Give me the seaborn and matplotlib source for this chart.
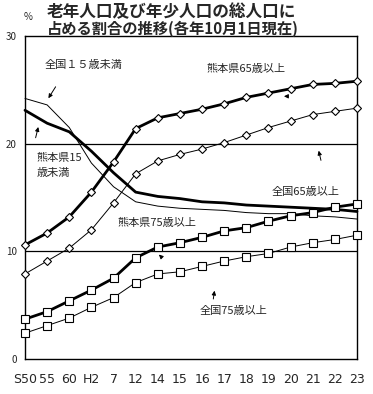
import numpy as np
import pandas as pd
import seaborn as sns
import matplotlib.pyplot as plt

# --- data ---
years = ['S50', '55', '60', 'H2', '7', '12', '14', '15', '16', '17',
         '18', '19', '20', '21', '22', '23']
kuma_65 = [10.6, 11.7, 13.2, 15.5, 18.3, 21.4, 22.4, 22.8, 23.2, 23.7,
           24.3, 24.7, 25.1, 25.5, 25.6, 25.8]
zenkoku_65 = [7.9, 9.1, 10.3, 12.0, 14.5, 17.2, 18.4, 19.0, 19.5, 20.1,
              20.8, 21.5, 22.1, 22.7, 23.0, 23.3]
kuma_75 = [3.7, 4.4, 5.4, 6.4, 7.5, 9.4, 10.4, 10.8, 11.3, 11.9,
           12.2, 12.8, 13.3, 13.6, 14.1, 14.4]
zenkoku_75 = [2.4, 3.1, 3.8, 4.8, 5.7, 7.1, 7.9, 8.1, 8.6, 9.1,
              9.5, 9.8, 10.4, 10.8, 11.1, 11.5]
kuma_u15 = [23.1, 21.9, 21.1, 19.3, 17.3, 15.5, 15.1, 14.9, 14.6, 14.5,
            14.3, 14.2, 14.1, 14.0, 13.9, 13.7]
zenkoku_u15 = [24.2, 23.6, 21.5, 18.2, 16.0, 14.6, 14.2, 14.0, 13.9, 13.8,
               13.6, 13.5, 13.5, 13.3, 13.2, 13.0]

sns.set_style('white')
plt.rcParams['font.family'] = ['Noto Sans CJK JP', 'DejaVu Sans']

df = pd.DataFrame({'pos': np.arange(len(years))})

fig = plt.figure(figsize=(3.73, 3.94), dpi=100)
ax = fig.add_axes([25/373, 1-359/394, 332/373, 323/394])

# gridlines at 10 and 20
for g in [10, 20]:
    ax.axhline(g, color='black', lw=0.9, zorder=1)

# (values, linewidth, marker, markersize)
series = [
    (kuma_u15, 2.0, None, 0),
    (zenkoku_u15, 0.7, None, 0),
    (kuma_65, 2.0, 'D', 4.0),
    (zenkoku_65, 0.7, 'D', 4.0),
    (kuma_75, 2.0, 's', 5.5),
    (zenkoku_75, 0.7, 's', 5.5),
]
for vals, lw, mk, ms in series:
    sns.lineplot(x=df['pos'], y=vals, ax=ax, color='black', lw=lw,
                 marker=mk, markersize=ms, markerfacecolor='white',
                 markeredgecolor='black', markeredgewidth=0.8,
                 clip_on=False, zorder=3)

ax.set_xlim(0, len(years) - 1)
ax.set_ylim(0, 30)
ax.set_xticks(df['pos'])
ax.set_xticklabels(years, fontsize=9, family=['Liberation Sans Narrow', 'DejaVu Sans'])
ax.set_yticks([0, 10, 20, 30])
ax.set_yticklabels(['0', '10', '20', '30'], fontsize=7)
ax.tick_params(axis='x', direction='in', length=3, width=0.8, pad=10)
ax.tick_params(axis='y', length=0, pad=6)
ax.set_xlabel('')
ax.set_ylabel('')
for s in ax.spines.values():
    s.set_color('black')
    s.set_linewidth(1.0)

# annotations
fs = 8
ax.text(0.9, 27.3, '全国１５歳未満', fontsize=fs, va='center')
ax.text(0.54, 18.7, '熊本県15', fontsize=fs, va='center')
ax.text(0.54, 17.3, '歳未満', fontsize=fs, va='center')
ax.text(8.22, 26.9, '熊本県65歳以上', fontsize=fs, va='center')
ax.text(11.16, 15.5, '全国65歳以上', fontsize=fs, va='center')
ax.text(4.16, 12.6, '熊本県75歳以上', fontsize=fs, va='center')
ax.text(7.9, 4.46, '全国75歳以上', fontsize=fs, va='center')

arr = dict(arrowstyle='-|>', color='black', lw=0.7, mutation_scale=6)
ax.annotate('', xy=(0.99, 24.0), xytext=(1.45, 25.5), arrowprops=arr)
ax.annotate('', xy=(0.63, 21.8), xytext=(0.45, 20.3), arrowprops=arr)
ax.annotate('', xy=(13.24, 19.6), xytext=(13.4, 18.2), arrowprops=arr)
ax.annotate('', xy=(8.58, 6.6), xytext=(8.49, 5.32), arrowprops=arr)
ax.annotate('', xy=(11.7, 24.4), xytext=(11.95, 24.4), arrowprops=arr)
ax.annotate('', xy=(6.05, 9.7), xytext=(6.2, 9.4), arrowprops=arr)

# title and unit
fig.text(47/373, 1-12/394, '老年人口及び年少人口の総人口に', fontsize=12,
         fontweight='bold', va='center', ha='left')
fig.text(47/373, 1-29/394, '占める割合の推移(各年10月1日現在)', fontsize=11,
         fontweight='bold', va='center', ha='left')
fig.text(28/373, 1-17/394, '%', fontsize=7, va='center', ha='center')

fig.savefig('out.png', dpi=100)
